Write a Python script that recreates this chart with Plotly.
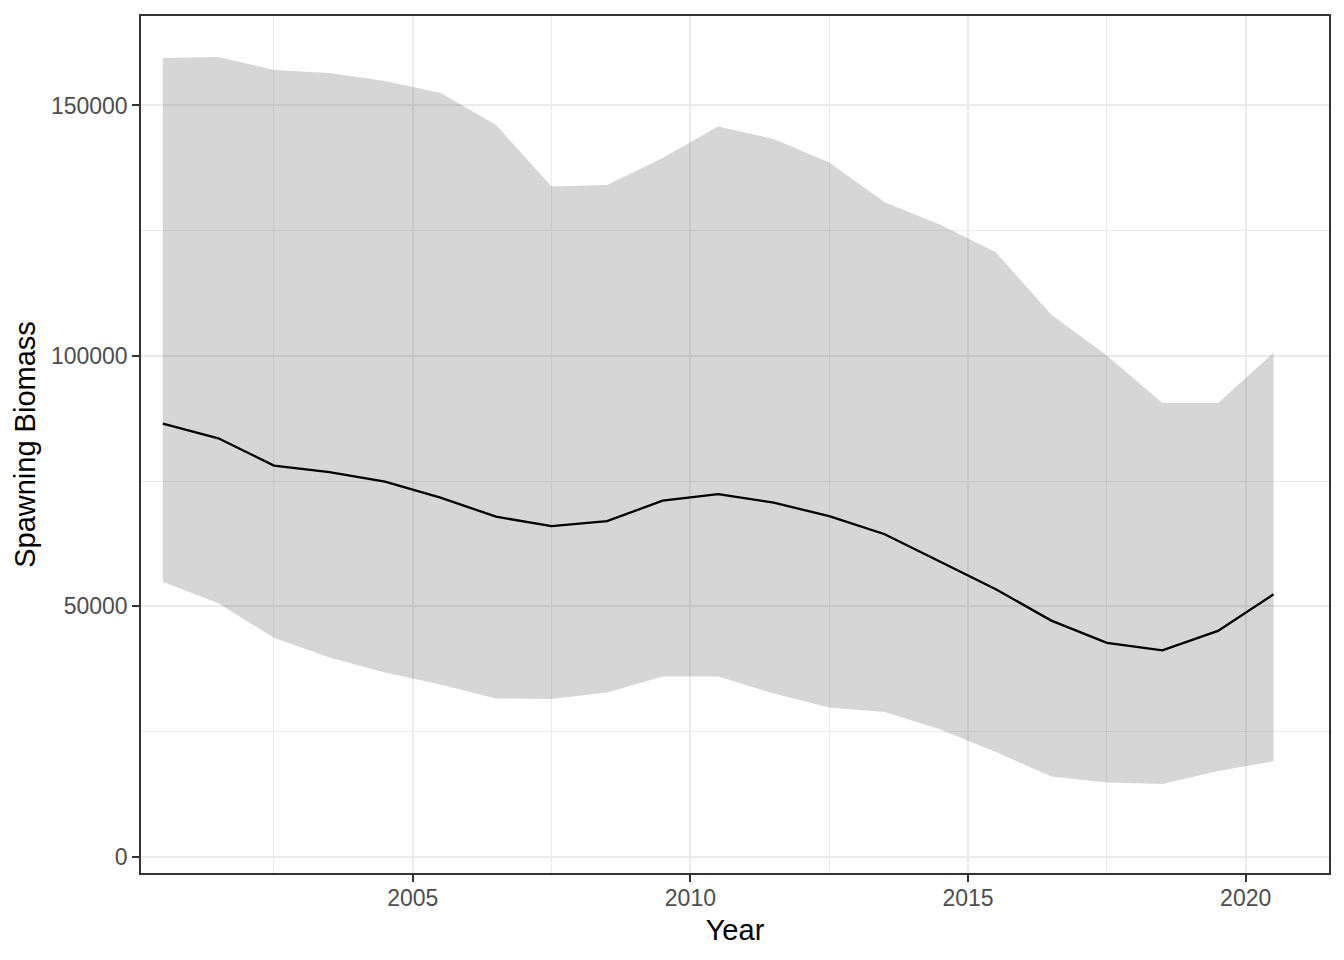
import plotly.graph_objects as go

# spawning biomass estimates (mid-year points)
years = [2000.5, 2001.5, 2002.5, 2003.5, 2004.5, 2005.5, 2006.5, 2007.5, 2008.5, 2009.5, 2010.5,
         2011.5, 2012.5, 2013.5, 2014.5, 2015.5, 2016.5, 2017.5, 2018.5, 2019.5, 2020.5]
biomass = [86500, 83550, 78100, 76800, 74900, 71700, 67900, 66000, 67000, 71100, 72400,
           70700, 68000, 64400, 58900, 53400, 47150, 42700, 41200, 45100, 52400]
upper = [159500, 159700, 157100, 156500, 154900, 152500, 146100, 133800, 134100, 139500, 145800,
         143300, 138600, 130700, 126200, 120700, 108200, 100100, 90600, 90600, 100600]
lower = [54900, 50600, 43700, 39800, 36800, 34400, 31600, 31500, 32800, 36000, 36000,
         32600, 29800, 28900, 25400, 20900, 16000, 14800, 14500, 17100, 19050]

GRID = "#EBEBEB"
DARK = "#333333"

fig = go.Figure()

# ribbon: lower bound first, then upper filled down to it
fig.add_trace(go.Scatter(x=years, y=lower, mode="lines", line=dict(width=0),
                         hoverinfo="skip", showlegend=False))
fig.add_trace(go.Scatter(x=years, y=upper, mode="lines", line=dict(width=0),
                         fill="tonexty", fillcolor="rgba(51,51,51,0.2)",
                         hoverinfo="skip", showlegend=False))
fig.add_trace(go.Scatter(x=years, y=biomass, mode="lines",
                         line=dict(color="black", width=2.3), showlegend=False))

axis_common = dict(
    showline=True, linecolor=DARK, linewidth=1.5, mirror=True,
    ticks="outside", ticklen=7, tickwidth=1.5, tickcolor=DARK,
    gridcolor=GRID, gridwidth=2, zeroline=False,
    tickfont=dict(family="Liberation Sans, Arial, sans-serif", size=23, color="#4D4D4D"),
)

# page body has an 8px margin, so the figure is 8px smaller and margins shifted
fig.update_layout(
    width=1336, height=952,
    margin=dict(l=133, r=15, t=6, b=87),
    paper_bgcolor="white", plot_bgcolor="white",
    font=dict(family="Liberation Sans, Arial, sans-serif", color="black"),
    xaxis=dict(
        axis_common,
        range=[2000.107, 2021.5], tick0=2005, dtick=5,
        ticklabelstandoff=-3,
        minor=dict(showgrid=True, gridcolor=GRID, gridwidth=1, tick0=2002.5, dtick=2.5, ticks=""),
        title=dict(text="Year", font=dict(size=29), standoff=9),
    ),
    yaxis=dict(
        axis_common,
        range=[-3247, 167868], tick0=0, dtick=50000, tickformat="d",
        minor=dict(showgrid=True, gridcolor=GRID, gridwidth=1, tick0=25000, dtick=25000, ticks=""),
        title=dict(text="Spawning Biomass", font=dict(size=29), standoff=7),
    ),
)

fig.write_html("out.html")
